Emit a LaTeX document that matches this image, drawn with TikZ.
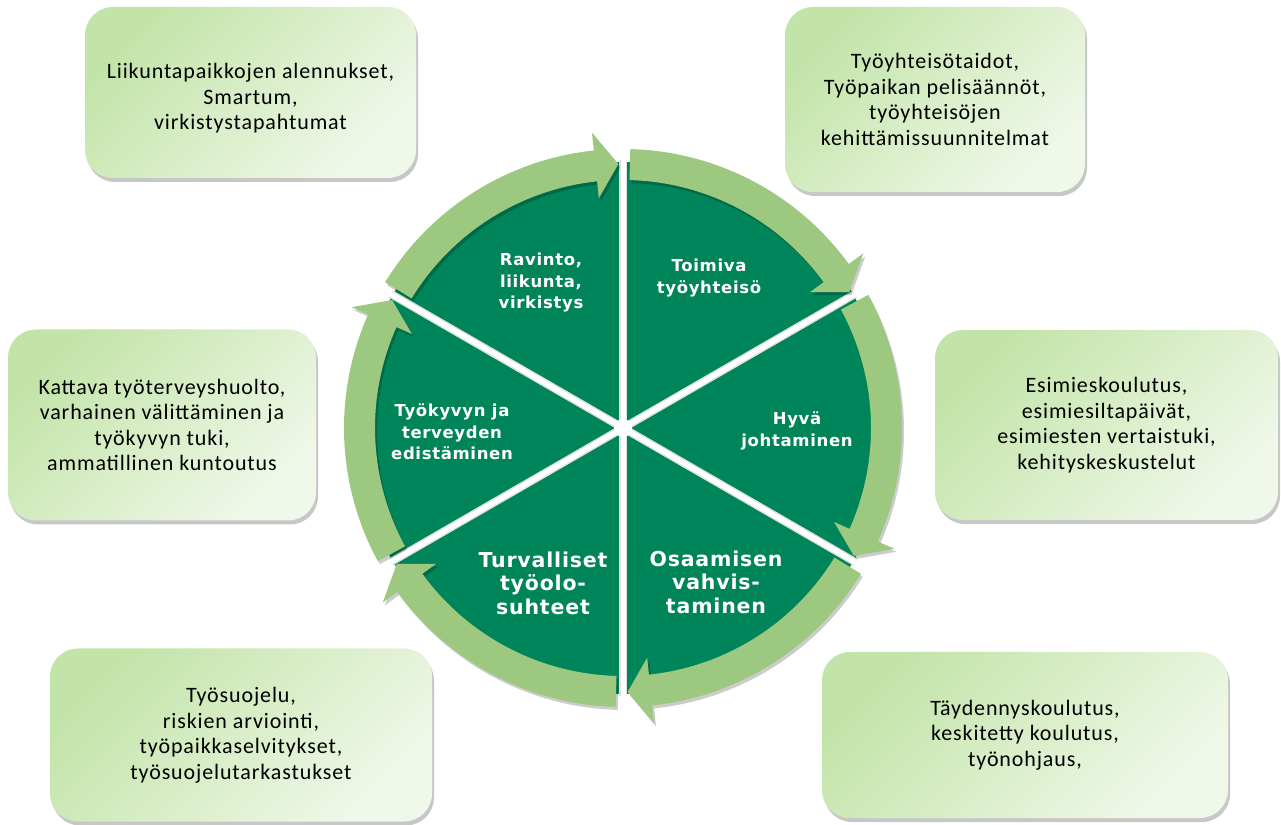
\documentclass[tikz,border=0pt]{standalone}
\usepackage{fontspec}
\setmainfont{Carlito}[LetterSpace=4]
\newfontfamily\piefont{DejaVu Sans}[LetterSpace=4]
\usetikzlibrary{shadows}
\definecolor{darkg}{RGB}{0,132,90}
\definecolor{bandg}{RGB}{156,201,127}
\definecolor{boxa}{RGB}{194,228,168}
\definecolor{boxb}{RGB}{240,248,233}
\begin{document}
\begin{tikzpicture}[x=1pt,y=1pt,
  box/.style={rounded corners=28pt, top color=boxa, bottom color=boxb, shading angle=45,
    drop shadow={shadow xshift=2pt, shadow yshift=-4pt, opacity=0.22, fill=black},
    inner sep=0pt, align=center, font=\fontsize{22}{25.5}\selectfont},
  boxtext/.style={inner sep=0pt, align=center, font=\fontsize{22}{25.5}\selectfont},
  pietext/.style={text=white, align=center, font=\piefont\bfseries\fontsize{16.5}{21.5}\selectfont},
  piebig/.style={text=white, align=center, font=\piefont\bfseries\fontsize{20.5}{23.5}\selectfont},
  band/.style={fill=bandg, drop shadow={shadow xshift=2pt, shadow yshift=-3pt, opacity=0.2, fill=black}},
  gapshade/.style={line width=8pt, draw=black!12},
  gapline/.style={line width=5pt, draw=white}
]
\useasboundingbox (0,0) rectangle (1281,824);

% boxes
\node[box, minimum width=331pt, minimum height=171pt] (b1) at (250.5,731.5) {};
\node[boxtext] (b1t) at (b1.center) [yshift=-6pt]
  {Liikuntapaikkojen alennukset,\\Smartum,\\virkistystapahtumat};
\node[box, minimum width=300pt, minimum height=185pt] (b2) at (935,724.5)
  {Työyhteisötaidot,\\Työpaikan pelisäännöt,\\työyhteisöjen\\kehittämissuunnitelmat};
\node[box, minimum width=308pt, minimum height=191pt] (b3) at (162,399)
  {Kattava työterveyshuolto,\\varhainen välittäminen ja\\työkyvyn tuki,\\ammatillinen kuntoutus};
\node[box, minimum width=343pt, minimum height=190pt] (b4) at (1106.5,399)
  {Esimieskoulutus,\\esimiesiltapäivät,\\esimiesten vertaistuki,\\kehityskeskustelut};
\node[box, minimum width=382pt, minimum height=173pt] (b5) at (241,89)
  {Työsuojelu,\\riskien arviointi,\\työpaikkaselvitykset,\\työsuojelutarkastukset};
\node[box, minimum width=406pt, minimum height=166pt] (b6) at (1025,89)
  {Täydennyskoulutus,\\keskitetty koulutus,\\työnohjaus,};

% wheel
\begin{scope}[shift={(623,396)}]
  \coordinate (c) at (0,0);
  \fill[darkg] (c) circle[radius=266];
  \foreach \A in {150,90,30,-30,-90,-150}{
    \coordinate (g\A) at (\A:268);
    \draw[gapshade] (c) -- (g\A);
  }
  \foreach \A in {150,90,30,-30,-90,-150}{
    \draw[gapline] (c) -- (g\A);
  }
  \fill[white] (c) circle[radius=9];
  \foreach \A in {150,90,30,-30,-90,-150}{
    \pgfmathsetmacro\S{\A-1.5}
    \pgfmathsetmacro\E{\A-54}
    \pgfmathsetmacro\T{\A-59}
    \fill[band] (\S:279) arc[start angle=\S, end angle=\E, radius=279]
      -- (\E:297) -- (\T:264) -- (\E:231) -- (\E:248)
      arc[start angle=\E, end angle=\S, radius=248] -- cycle;
  }
\end{scope}

\node[pietext] (t1) at (541,541) {Ravinto,\\liikunta,\\virkistys};
\node[pietext] (t2) at (709,546) {Toimiva\\työyhteisö};
\node[pietext] (t3) at (797,393) {Hyvä\\johtaminen};
\node[piebig] (t4) at (716,242) {Osaamisen\\vahvis-\\taminen};
\node[piebig] (t5) at (543,241) {Turvalliset\\työolo-\\suhteet};
\node[pietext] (t6) at (452,392) {Työkyvyn ja\\terveyden\\edistäminen};
\end{tikzpicture}
\end{document}
